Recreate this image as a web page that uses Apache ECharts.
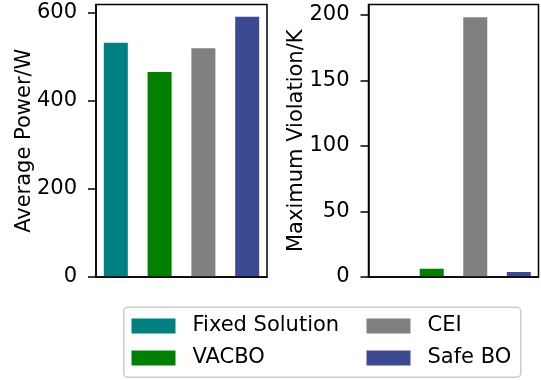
<!DOCTYPE html>
<html>
<head>
<meta charset="utf-8">
<script src="https://cdn.jsdelivr.net/npm/echarts@6/dist/echarts.min.js"></script>
<style>
  html, body { margin: 0; padding: 0; background: #ffffff; }
  #chart { width: 541px; height: 380px; }
</style>
</head>
<body>
<div id="chart"></div>
<script>
// Methods compared, in bar order
const methods = ['Fixed Solution', 'VACBO', 'CEI', 'Safe BO'];
const colors = ['#008080', '#008000', '#808080', '#3b4a93'];

// Average power per method (W)
const avgPower = [531, 465, 519, 590];
// Maximum constraint violation per method (K)
const maxViolation = [0, 6.3, 198.2, 3.8];

// Tick labels of the two value axes
const powerTicks = [0, 200, 400, 600];
const violationTicks = [0, 50, 100, 150, 200];

const FONT = 'DejaVu Sans';
const FS = 21;

function yAxisFor(gridIndex, name, max, ticks) {
  return {
    type: 'value', gridIndex: gridIndex, min: 0, max: max,
    name: name, nameLocation: 'middle', nameRotate: 90, nameGap: 61,
    nameMoveOverlap: false,
    nameTextStyle: { fontFamily: FONT, fontSize: FS, color: '#000' },
    splitLine: { show: false },
    axisLine: { show: true, onZero: false, lineStyle: { color: '#000', width: 1.5 } },
    axisTick: { show: true, length: 8, lineStyle: { color: '#000', width: 1.5 }, customValues: ticks },
    axisLabel: { fontFamily: FONT, fontSize: FS, color: '#000', margin: 19, customValues: ticks },
    z: 5
  };
}

function xAxisFor(gridIndex) {
  return {
    type: 'value', gridIndex: gridIndex, min: -0.4525, max: 3.4525,
    axisLine: { show: true, onZero: false, lineStyle: { color: '#000', width: 1.5 } },
    axisTick: { show: false }, axisLabel: { show: false }, splitLine: { show: false },
    z: 5
  };
}

const series = [];
methods.forEach(function (m, i) {
  series.push({
    name: m, type: 'bar', xAxisIndex: 0, yAxisIndex: 0,
    barWidth: 24, barGap: '-100%',
    itemStyle: { color: colors[i] },
    data: [[i, avgPower[i]]]
  });
  series.push({
    name: m, type: 'bar', xAxisIndex: 1, yAxisIndex: 1,
    barWidth: 24, barGap: '-100%',
    itemStyle: { color: colors[i] },
    data: [[i, maxViolation[i]]]
  });
});

function legendFor(names, left) {
  return {
    orient: 'vertical', left: left, top: 315.5, padding: 0,
    data: names, itemWidth: 44, itemHeight: 15, itemGap: 11,
    icon: 'rect', selectedMode: false,
    textStyle: { fontFamily: FONT, fontSize: FS, color: '#000', lineHeight: 15, padding: [0, 0, 0, 12] }
  };
}

const chart = echarts.init(document.getElementById('chart'), null, { renderer: 'canvas' });
chart.setOption({
  backgroundColor: '#ffffff',
  animation: false,
  grid: [
    { left: 96, top: 4.5, width: 171, height: 272.5, show: true, borderColor: '#000', borderWidth: 1.5 },
    { left: 368.5, top: 4.5, width: 170, height: 272.5, show: true, borderColor: '#000', borderWidth: 1.5 }
  ],
  xAxis: [xAxisFor(0), xAxisFor(1)],
  yAxis: [
    yAxisFor(0, 'Average Power/W', 618, powerTicks),
    yAxisFor(1, 'Maximum Violation/K', 207.9, violationTicks)
  ],
  legend: [
    legendFor([methods[0], methods[1]], 131.5),
    legendFor([methods[2], methods[3]], 366.5)
  ],
  graphic: [{
    type: 'rect', left: 123, top: 306.5,
    shape: { width: 397, height: 70, r: 4 },
    style: { fill: 'rgba(255,255,255,0.8)', stroke: '#cccccc', lineWidth: 1.5 },
    z: -1
  }],
  series: series
});
</script>
</body>
</html>
